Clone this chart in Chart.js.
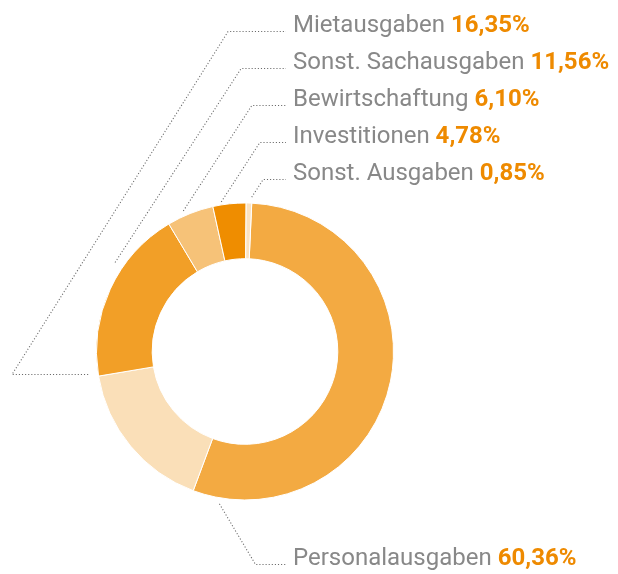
<!DOCTYPE html>
<html>
<head>
<meta charset="utf-8">
<script src="https://cdn.jsdelivr.net/npm/chart.js@4.4.1/dist/chart.umd.min.js"></script>
<style>
  html, body { margin: 0; padding: 0; background: #fff; }
  #wrap { width: 618px; height: 574px; }
</style>
</head>
<body>
<div id="wrap"><canvas id="myChart" width="618" height="574"></canvas></div>
<script>
// Kategorien im Uhrzeigersinn, beginnend oben
const categories = ["Personalausgaben", "Mietausgaben", "Sonst. Sachausgaben", "Bewirtschaftung", "Investitionen", "Sonst. Ausgaben"];
// Prozentwerte wie beschriftet
const printedShares = [60.36, 16.35, 11.56, 6.10, 4.78, 0.85];
// Segmentgrößen, wie sie im Original tatsächlich gezeichnet sind
const sliceValues = [55.0, 16.7, 19.1, 5.1, 3.6, 0.6];
const sliceColors = ["#F3AA42", "#FADFB8", "#F29F27", "#F6C278", "#EF8D00", "#FBE2C0"];

// Führungslinien: Position im Segment (0..1) und Abstand zum Ring
const anchorPos = [0.945, 1.02, 0.64, 0.39, 0.27, 0.95];
const anchorGap = [6, 10, 9, 5, 3, 6];

const labelX = 293;
const topRows = [1, 2, 3, 4, 5]; // Reihenfolge der oberen Beschriftungen
const rowBaseline = (i) => 31.5 + 37.1 * i;
const bottomBaseline = 565;

const fmt = (v) => v.toFixed(2).replace(".", ",") + "%";

const leaderLabels = {
  id: "leaderLabels",
  afterDraw(chart) {
    const ctx = chart.ctx;
    const meta = chart.getDatasetMeta(0);
    const slope = 0.65;

    ctx.save();
    ctx.strokeStyle = "#6a6a6a";
    ctx.lineWidth = 1.1;
    ctx.setLineDash([1.1, 2]);

    meta.data.forEach((arc, i) => {
      const p = arc.getProps(["x", "y", "startAngle", "endAngle", "outerRadius"], true);
      const a = p.startAngle + (p.endAngle - p.startAngle) * anchorPos[i];
      const r = p.outerRadius + anchorGap[i];
      let ax = p.x + Math.cos(a) * r;
      let ay = p.y + Math.sin(a) * r;

      let baseY;
      if (i === 0) baseY = bottomBaseline;
      else baseY = rowBaseline(topRows.indexOf(i));
      const lineY = Math.round(baseY) - 0.5;

      ctx.beginPath();
      if (i === 1) {
        // Mietausgaben: Umweg über links
        const elbowX = 12;
        ay = Math.round(ay) + 0.5;
        ctx.moveTo(ax, ay);
        ctx.lineTo(elbowX, ay);
        ctx.lineTo(elbowX + (ay - lineY) * 0.63, lineY);
      } else if (i === 0) {
        ctx.moveTo(ax, ay);
        ctx.lineTo(ax + (lineY - ay) * 0.595, lineY);
      } else {
        ctx.moveTo(ax, ay);
        ctx.lineTo(ax + (ay - lineY) * slope, lineY);
      }
      ctx.lineTo(labelX - 7, lineY);
      ctx.stroke();
    });

    ctx.setLineDash([]);
    ctx.textBaseline = "alphabetic";
    ctx.textAlign = "left";
    categories.forEach((name, i) => {
      const y = i === 0 ? bottomBaseline : rowBaseline(topRows.indexOf(i));
      ctx.font = "400 24px Roboto, 'Open Sans', sans-serif";
      ctx.fillStyle = "#888888";
      ctx.fillText(name, labelX, y);
      const w = ctx.measureText(name + " ").width;
      ctx.font = "700 24px Roboto, 'Open Sans', sans-serif";
      ctx.fillStyle = "#EE8A00";
      ctx.fillText(fmt(printedShares[i]), labelX + w, y);
    });
    ctx.restore();
  }
};

const ctx = document.getElementById("myChart").getContext("2d");
const myChart = new Chart(ctx, {
  type: "doughnut",
  data: {
    labels: categories,
    datasets: [
      {
        data: sliceValues,
        backgroundColor: sliceColors,
        borderColor: "#ffffff",
        borderWidth: 1,
        hoverOffset: 0,
      },
    ],
  },
  options: {
    responsive: false,
    animation: false,
    rotation: 2.6,
    cutout: "62.5%",
    layout: {
      padding: { left: 96, right: 224, top: 202.5, bottom: 73.5 },
    },
    plugins: {
      legend: { display: false },
      tooltip: { enabled: false },
    },
  },
  plugins: [leaderLabels],
});
</script>
</body>
</html>
